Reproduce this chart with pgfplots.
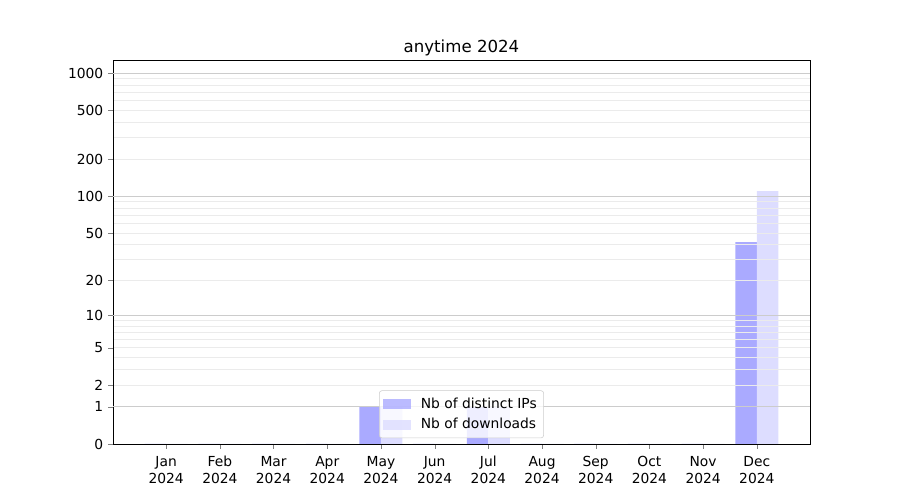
\documentclass[border=0pt]{standalone}
\usepackage{pgfplots}
\pgfplotsset{compat=1.18}
\usepackage{pgfplotstable}
\usepackage{fontspec}
\setmainfont{DejaVu Sans}
\definecolor{ipcol}{RGB}{170,170,255}
\definecolor{dlcol}{RGB}{221,221,255}
\definecolor{majgrid}{RGB}{204,204,204}
\definecolor{mingrid}{RGB}{235,235,235}
\pgfplotstableread{
m ips dls
0 0 0
1 0 0
2 0 0
3 0 0
4 1 1
5 0 0
6 1 1
7 0 0
8 0 0
9 0 0
10 0 0
11 42 110
}\datatable
\begin{document}
\begin{tikzpicture}
\path[use as bounding box] (-81.67pt,-40.47pt) rectangle (568.77pt,320.88pt);
\begin{axis}[
  at={(0,0)}, anchor=south west,
  scale only axis,
  width=503.7pt, height=277.5pt,
  xmin=-0.99, xmax=11.99,
  ymin=0, ymax=3.107,
  axis on top,
  /pgf/number format/assume math mode=true,
  font=\fontsize{10}{12}\selectfont,
  tick align=outside,
  xtick pos=bottom, ytick pos=left,
  major tick length=3.5pt,
  minor tick length=0pt,
  xtick={0,...,11},
  xticklabels={{\strut Jan\\2024},{\strut Feb\\2024},{\strut Mar\\2024},{\strut Apr\\2024},{\strut May\\2024},{\strut Jun\\2024},{\strut Jul\\2024},{\strut Aug\\2024},{\strut Sep\\2024},{\strut Oct\\2024},{\strut Nov\\2024},{\strut Dec\\2024}},
  xticklabel style={align=center, font=\fontsize{10}{12.2}\selectfont, anchor=north, inner ysep=1pt, yshift=-3pt},
  ytick={0,0.30103,0.47712,0.77815,1.04139,1.32222,1.70757,2.00432,2.30320,2.70001,3.00043},
  yticklabels={0,1,2,5,10,20,50,100,200,500,1000},
  minor ytick={0.47712,0.60206,0.69897,0.77815,0.84510,0.90309,0.95424,1.0,
    1.32222,1.49136,1.61278,1.70757,1.78533,1.85126,1.90849,1.95904,
    2.30320,2.47857,2.60314,2.70001,2.77887,2.84572,2.90363,2.95472},
  yminorgrids=true,
  minor grid style={mingrid, line width=0.6pt},
  extra y ticks={0.30103,1.04139,2.00432,3.00043},
  extra y tick labels={},
  extra y tick style={grid=major, major grid style={majgrid, line width=0.6pt}, major tick length=0pt},
  axis line style={line width=0.6pt},
  title={anytime 2024},
  title style={font=\fontsize{12}{14}\selectfont, at={(0.5,1)}, anchor=south, yshift=-6.8pt},
  legend style={at={(0.5,0.015)}, anchor=south, fill=white, fill opacity=0.8, text opacity=1,
    draw=majgrid, rounded corners=2pt, font=\fontsize{10}{12}\selectfont,
    inner xsep=3pt, inner ysep=3pt, row sep=2pt},
  legend cell align=left,
  legend image code/.code={\fill[#1, sharp corners] (0pt,-3.5pt) rectangle (20pt,3.5pt); \path (25pt,0pt);},
]
\addplot[ybar, bar width=0.4, bar shift=-0.2, fill=ipcol, draw=none]
  table[x=m, y expr={log10(\thisrow{ips}+1)}] {\datatable};
\addlegendentry{Nb of distinct IPs}
\addplot[ybar, bar width=0.4, bar shift=0.2, fill=dlcol, draw=none]
  table[x=m, y expr={log10(\thisrow{dls}+1)}] {\datatable};
\addlegendentry{Nb of downloads}
\end{axis}
\end{tikzpicture}
\end{document}
